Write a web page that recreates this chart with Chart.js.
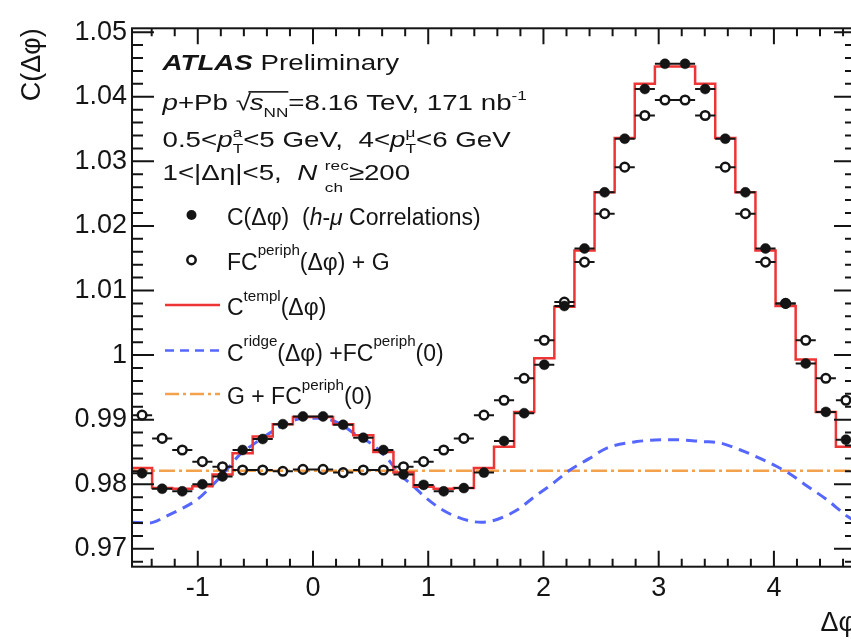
<!DOCTYPE html>
<html>
<head>
<meta charset="utf-8">
<script src="https://cdn.jsdelivr.net/npm/chart.js@4.4.1/dist/chart.umd.min.js"></script>
<style>
html, body { margin: 0; padding: 0; overflow: hidden; background: #fff; }
#wrap { position: absolute; left: 0; top: 0; width: 880px; height: 640px; }
</style>
</head>
<body>
<div id="wrap"><canvas id="chart" width="880" height="640"></canvas></div>
<script>
// histogram binning: 36 bins over -pi/2 .. 3pi/2
var NBINS = 36;
var XMIN = -Math.PI / 2;
var XMAX = 3 * Math.PI / 2;
var YMIN = 0.96723;
var YMAX = 1.0506;

// C(dphi), h-mu correlations (filled points)
var corrC = [0.9817, 0.9793, 0.9789, 0.9800, 0.9812, 0.9853, 0.9870, 0.9893, 0.9905, 0.9905,
             0.9892, 0.9872, 0.9853, 0.9815, 0.9799, 0.9789, 0.9794, 0.9818, 0.9867, 0.9910,
             0.9985, 1.0076, 1.0165, 1.0252, 1.0335, 1.0412, 1.0451, 1.0451, 1.0412, 1.0335,
             1.0252, 1.0165, 1.0080, 0.9987, 0.9912, 0.9869];

// F C^periph(dphi) + G (open points)
var periphG = [0.9907, 0.9871, 0.9853, 0.9835, 0.9827, 0.9822, 0.9822, 0.9820, 0.9823, 0.9823,
               0.9818, 0.9822, 0.9822, 0.9827, 0.9835, 0.9853, 0.9871, 0.9907, 0.9930, 0.9964,
               1.0023, 1.0082, 1.0144, 1.0219, 1.0291, 1.0371, 1.0395, 1.0395, 1.0371, 1.0291,
               1.0219, 1.0144, 1.0080, 1.0023, 0.9964, 0.9930];

// C^templ(dphi) (red histogram)
var templ = [0.9825, 0.9794, 0.9793, 0.9797, 0.9815, 0.9848, 0.9874, 0.9893, 0.9904, 0.9904,
             0.9893, 0.9876, 0.9850, 0.9818, 0.9796, 0.9793, 0.9794, 0.9825, 0.9858, 0.9912,
             0.9995, 1.0075, 1.0162, 1.0252, 1.0336, 1.0420, 1.0447, 1.0447, 1.0420, 1.0336,
             1.0252, 1.0162, 1.0076, 0.9993, 0.9912, 0.9858];

// C^ridge(dphi) + F C^periph(0) (blue dashed curve)
var ridgeX = [-1.571, -1.42, -1.28, -1.13, -1.00, -0.87, -0.76, -0.64, -0.50, -0.35, -0.23, -0.09,
              0.08, 0.23, 0.37, 0.52, 0.64, 0.75, 0.87, 0.98, 1.10, 1.24, 1.46, 1.59, 1.77, 1.91,
              2.08, 2.23, 2.40, 2.55, 2.81, 3.13, 3.39, 3.53, 3.71, 3.88, 4.03, 4.13, 4.29, 4.46,
              4.64, 4.712];
var ridgeY = [0.9741, 0.9740, 0.9750, 0.9763, 0.9777, 0.9799, 0.9820, 0.9845, 0.9864, 0.9882, 0.9894, 0.9902,
              0.9902, 0.9894, 0.9877, 0.9861, 0.9841, 0.9816, 0.9797, 0.9779, 0.9763, 0.9750, 0.9741, 0.9745, 0.9760, 0.9779,
              0.9801, 0.9822, 0.9840, 0.9856, 0.9866, 0.9869, 0.9866, 0.9864, 0.9853, 0.9840, 0.9827, 0.9817, 0.9797, 0.9776,
              0.9750, 0.9742];

// G + F C^periph(0)
var gLevel = 0.9821;

var xTicks = [-1, 0, 1, 2, 3, 4];
var yTicks = [0.97, 0.98, 0.99, 1.00, 1.01, 1.02, 1.03, 1.04, 1.05];

var binW = (XMAX - XMIN) / NBINS;
var centers = corrC.map(function(v, i) { return XMIN + (i + 0.5) * binW; });

var RED = '#ee3535';
var BLUE = '#5567ff';
var ORANGE = '#f4a14c';
var INK = '#141414';
var FONT = '"Liberation Sans", Arial, Helvetica, sans-serif';

function pts(xs, ys) {
    return xs.map(function(x, i) { return {x: x, y: ys[i]}; });
}

// left bin edges + closing right edge, drawn with step-before
var histPts = templ.map(function(v, i) { return {x: XMIN + i * binW, y: v}; });
histPts.push({x: XMAX, y: templ[templ.length - 1]});

function fnt(size, style) {
    return (style || '') + ' ' + size + 'px ' + FONT;
}

// small rich text writer: plain runs, super/sub scripts, sqrt
function rich(ctx, x, y, size, sx, parts) {
    ctx.save();
    ctx.translate(x, y);
    ctx.scale(sx, 1);
    ctx.fillStyle = INK;
    ctx.textBaseline = 'alphabetic';
    ctx.textAlign = 'left';
    var cx = 0;
    parts.forEach(function(p) {
        if (p.t !== undefined) {
            ctx.font = fnt(size, p.f);
            ctx.fillText(p.t, cx, 0);
            cx += ctx.measureText(p.t).width;
        } else if (p.root) {
            ctx.font = fnt(size);
            ctx.fillText('\u221A', cx, 0);
            var x0 = cx + ctx.measureText('\u221A').width - 1;
            ctx.font = fnt(size, 'italic');
            ctx.fillText(p.root, x0, 0);
            var x1 = x0 + ctx.measureText(p.root).width;
            ctx.font = fnt(size * 0.62);
            ctx.fillText(p.dn, x1, size * 0.3);
            x1 += ctx.measureText(p.dn).width;
            ctx.fillRect(x0 - 1, -size * 0.86, x1 - x0 + 1, 1.6);
            cx = x1;
        } else {
            var s = size * (p.k || 0.62);
            ctx.font = fnt(s);
            var w = 0;
            if (p.up) {
                ctx.fillText(p.up, cx, -size * (p.upY || 0.45));
                w = ctx.measureText(p.up).width;
            }
            if (p.dn) {
                ctx.fillText(p.dn, cx, size * (p.dnY || 0.3));
                w = Math.max(w, ctx.measureText(p.dn).width);
            }
            cx += w;
        }
    });
    ctx.restore();
}

var header = [
    [{t: 'ATLAS', f: 'bold italic'}, {t: ' Preliminary'}],
    [{t: 'p', f: 'italic'}, {t: '+Pb '}, {root: 's', dn: 'NN'}, {t: '=8.16 TeV, 171 nb'}, {up: '-1'}],
    [{t: '0.5<'}, {t: 'p', f: 'italic'}, {up: 'a', dn: 'T'}, {t: '<5 GeV,  4<'}, {t: 'p', f: 'italic'}, {up: '\u03BC', dn: 'T'}, {t: '<6 GeV'}],
    [{t: '1<|\u0394\u03B7|<5,  '}, {t: 'N', f: 'italic'}, {t: ' '}, {up: 'rec', dn: 'ch', dnY: 0.55}, {t: '\u2265200'}]
];
var headerY = [69.5, 110, 146.5, 180];

var legendRows = [
    {kind: 'dot', parts: [{t: 'C(\u0394\u03C6)  ('}, {t: 'h', f: 'italic'}, {t: '-'}, {t: '\u03BC', f: 'italic'}, {t: ' Correlations)'}]},
    {kind: 'ring', parts: [{t: 'FC'}, {up: 'periph', upY: 0.62, k: 0.66}, {t: '(\u0394\u03C6) + G'}]},
    {kind: 'red', parts: [{t: 'C'}, {up: 'templ', upY: 0.62, k: 0.66}, {t: '(\u0394\u03C6)'}]},
    {kind: 'blue', parts: [{t: 'C'}, {up: 'ridge', upY: 0.62, k: 0.66}, {t: '(\u0394\u03C6) +FC'}, {up: 'periph', upY: 0.62, k: 0.66}, {t: '(0)'}]},
    {kind: 'orange', parts: [{t: 'G + FC'}, {up: 'periph', upY: 0.62, k: 0.66}, {t: '(0)'}]}
];
var legendY = [224.5, 269.5, 315, 360.5, 404];

var annotations = {
    id: 'annotations',
    afterDraw: function(chart) {
        var ctx = chart.ctx;
        header.forEach(function(line, i) { rich(ctx, 162.5, headerY[i], 22, 1.26, line); });

        legendRows.forEach(function(row, i) {
            var by = legendY[i];
            var my = by - 9.5;
            ctx.save();
            if (row.kind === 'dot') {
                ctx.fillStyle = INK;
                ctx.beginPath(); ctx.arc(191.5, my, 5, 0, 2 * Math.PI); ctx.fill();
            } else if (row.kind === 'ring') {
                ctx.strokeStyle = INK; ctx.lineWidth = 2.5;
                ctx.beginPath(); ctx.arc(191.5, my, 4.2, 0, 2 * Math.PI); ctx.stroke();
            } else {
                ctx.lineWidth = 2.5;
                ctx.strokeStyle = row.kind === 'red' ? RED : row.kind === 'blue' ? BLUE : ORANGE;
                if (row.kind === 'blue') ctx.setLineDash([9, 6]);
                if (row.kind === 'orange') ctx.setLineDash([14, 4, 3, 4]);
                ctx.beginPath(); ctx.moveTo(165, by - 10); ctx.lineTo(220, by - 10); ctx.stroke();
            }
            ctx.restore();
            rich(ctx, 227, by, 23, 1.0, row.parts);
        });
    }
};

// ROOT style frame with inward ticks on all four sides, plus x error bars
var frame = {
    id: 'frame',
    afterDatasetsDraw: function(chart) {
        var ctx = chart.ctx;
        var a = chart.chartArea;
        var xs = chart.scales.x;
        var ys = chart.scales.y;

        ctx.save();
        ctx.strokeStyle = INK;
        ctx.lineWidth = 2;

        // horizontal bin-width bars on the points
        chart.data.datasets.forEach(function(ds) {
            if (!ds.xerr) return;
            ctx.beginPath();
            ds.data.forEach(function(p) {
                var px = xs.getPixelForValue(p.x);
                var py = ys.getPixelForValue(p.y);
                var l = xs.getPixelForValue(p.x - binW / 2);
                var r = xs.getPixelForValue(p.x + binW / 2);
                ctx.moveTo(l, py); ctx.lineTo(px - 4.5, py);
                ctx.moveTo(px + 4.5, py); ctx.lineTo(r, py);
            });
            ctx.stroke();
        });

        ctx.strokeRect(a.left, a.top, a.right - a.left, a.bottom - a.top);

        ctx.beginPath();
        var k, v, p, len;
        for (k = Math.ceil(XMIN / 0.2); k <= Math.floor(XMAX / 0.2); k++) {
            v = k * 0.2;
            p = xs.getPixelForValue(v);
            len = (k % 5 === 0) ? 16 : 8;
            ctx.moveTo(p, a.bottom); ctx.lineTo(p, a.bottom - len);
            ctx.moveTo(p, a.top); ctx.lineTo(p, a.top + len);
        }
        for (k = Math.ceil(YMIN / 0.002); k <= Math.floor(YMAX / 0.002); k++) {
            v = k * 0.002;
            p = ys.getPixelForValue(v);
            len = (k % 5 === 0) ? 22 : 11;
            ctx.moveTo(a.left, p); ctx.lineTo(a.left + len, p);
            ctx.moveTo(a.right, p); ctx.lineTo(a.right - len, p);
        }
        ctx.stroke();
        ctx.restore();
    }
};

var chart = new Chart(document.getElementById('chart').getContext('2d'), {
    type: 'scatter',
    data: {
        datasets: [
            {
                label: 'C(\u0394\u03C6) (h-\u03BC Correlations)',
                data: pts(centers, corrC),
                xerr: true,
                pointStyle: 'circle',
                pointRadius: 5,
                pointBackgroundColor: INK,
                pointBorderColor: INK,
                pointBorderWidth: 0.5,
                showLine: false
            },
            {
                label: 'FC^periph(\u0394\u03C6) + G',
                data: pts(centers, periphG),
                xerr: true,
                pointStyle: 'circle',
                pointRadius: 4.3,
                pointBackgroundColor: 'rgba(0,0,0,0)',
                pointBorderColor: INK,
                pointBorderWidth: 2.5,
                showLine: false
            },
            {
                label: 'C^templ(\u0394\u03C6)',
                data: histPts,
                showLine: true,
                stepped: 'before',
                borderColor: RED,
                borderWidth: 2.5,
                pointRadius: 0
            },
            {
                label: 'C^ridge(\u0394\u03C6) + FC^periph(0)',
                data: pts(ridgeX, ridgeY),
                showLine: true,
                cubicInterpolationMode: 'monotone',
                borderColor: BLUE,
                borderWidth: 3,
                borderDash: [11, 7],
                pointRadius: 0
            },
            {
                label: 'G + FC^periph(0)',
                data: [{x: XMIN, y: gLevel}, {x: XMAX, y: gLevel}],
                showLine: true,
                borderColor: ORANGE,
                borderWidth: 2.5,
                borderDash: [16, 4, 3, 4],
                pointRadius: 0
            }
        ]
    },
    options: {
        responsive: false,
        animation: false,
        events: [],
        layout: { padding: { left: 0, right: 24, top: 28.3, bottom: 0 } },
        plugins: {
            legend: { display: false },
            tooltip: { enabled: false }
        },
        scales: {
            x: {
                type: 'linear',
                min: XMIN,
                max: XMAX,
                afterBuildTicks: function(s) { s.ticks = xTicks.map(function(v) { return {value: v}; }); },
                afterFit: function(s) { s.height = 73.3; },
                grid: { display: false, drawTicks: false },
                border: { display: false },
                ticks: {
                    color: INK,
                    padding: 6,
                    maxRotation: 0,
                    font: { family: FONT, size: 27 },
                    callback: function(v) { return String(v); }
                },
                title: {
                    display: true,
                    text: '\u0394\u03C6',
                    align: 'end',
                    color: INK,
                    font: { family: FONT, size: 27 },
                    padding: { top: 0, bottom: 0 }
                }
            },
            y: {
                type: 'linear',
                min: YMIN,
                max: YMAX,
                afterBuildTicks: function(s) { s.ticks = yTicks.map(function(v) { return {value: v}; }); },
                afterFit: function(s) { s.width = 132; },
                grid: { display: false, drawTicks: false },
                border: { display: false },
                ticks: {
                    color: INK,
                    padding: 5,
                    font: { family: FONT, size: 27 },
                    callback: function(v) { return String(+v.toFixed(2)); }
                },
                title: {
                    display: true,
                    text: 'C(\u0394\u03C6)',
                    align: 'end',
                    color: INK,
                    font: { family: FONT, size: 27 },
                    padding: { top: 16, bottom: 0 }
                }
            }
        }
    },
    plugins: [frame, annotations]
});
</script>
</body>
</html>
